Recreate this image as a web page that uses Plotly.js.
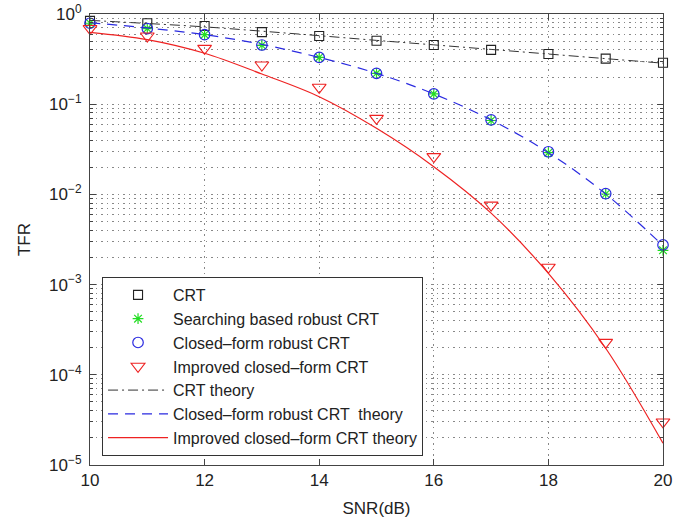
<!DOCTYPE html>
<html>
<head>
<meta charset="utf-8">
<script src="https://cdn.plot.ly/plotly-3.0.1.min.js"></script>
<style>html,body{margin:0;padding:0;background:#fff;}#chart{width:695px;height:524px;}</style>
</head>
<body>
<div id="chart"></div>
<script>
const snr = [10, 11, 12, 13, 14, 15, 16, 17, 18, 19, 20];
const crtSim = [0.84, 0.79, 0.735, 0.63, 0.57, 0.505, 0.453, 0.40, 0.36, 0.32, 0.288];
const searchingSim = [0.79, 0.69, 0.59, 0.45, 0.33, 0.22, 0.13, 0.066, 0.029, 0.0101, 0.0024];
const closedSim = [0.79, 0.69, 0.59, 0.453, 0.33, 0.22, 0.13, 0.067, 0.0297, 0.0102, 0.00275];
const improvedSim = [0.69, 0.57, 0.416, 0.272, 0.154, 0.0697, 0.0262, 0.0076, 0.00156, 0.000229, 0.00003];
const crtTheory = [0.85, 0.785, 0.72, 0.645, 0.575, 0.51, 0.455, 0.405, 0.36, 0.32, 0.285];
const closedTheory = [0.80, 0.70, 0.59, 0.46, 0.33, 0.22, 0.13, 0.067, 0.029, 0.0101, 0.0027];
const improvedTheory = [0.627, 0.52, 0.367, 0.216, 0.121, 0.054, 0.0203, 0.0062, 0.00133, 0.000197, 0.0000174];
const names = ["CRT", "Searching based robust CRT", "Closed\u2013form robust CRT", "Improved closed\u2013form CRT",
  "CRT theory", "Closed\u2013form robust CRT  theory", "Improved closed\u2013form CRT theory"];
const yTickVals = [1, 0.1, 0.01, 0.001, 0.0001, 0.00001];
const yTickText = ["10<sup>0</sup>", "10<sup>\u22121</sup>", "10<sup>\u22122</sup>", "10<sup>\u22123</sup>", "10<sup>\u22124</sup>", "10<sup>\u22125</sup>"];
const xTickVals = [10, 12, 14, 16, 18, 20];

const traces = [
  {x: snr, y: crtSim, name: names[0], mode: 'markers', cliponaxis: false,
   marker: {symbol: 'square-open', size: 9, color: '#222', line: {width: 1.1}}},
  {x: snr, y: searchingSim, name: names[1], mode: 'markers', cliponaxis: false,
   marker: {symbol: 'asterisk-open', size: 9, color: '#22dd22', line: {width: 1.2, color: '#22dd22'}}},
  {x: snr, y: closedSim, name: names[2], mode: 'markers', cliponaxis: false,
   marker: {symbol: 'circle-open', size: 10.5, color: '#2a2ae0', line: {width: 1.2}}},
  {x: snr, y: improvedSim, name: names[3], mode: 'markers', cliponaxis: false,
   marker: {symbol: 'triangle-down-open', size: 12, color: '#ee2222', line: {width: 1.1}}},
  {x: snr, y: crtTheory, name: names[4], mode: 'lines', line: {color: '#333', width: 1, dash: '10px,4px,2px,4px', shape: 'spline'}},
  {x: snr, y: closedTheory, name: names[5], mode: 'lines', line: {color: '#2a2ae0', width: 1.2, dash: '10px,7px', shape: 'spline'}},
  {x: snr, y: improvedTheory, name: names[6], mode: 'lines', line: {color: '#ee2222', width: 1.2, shape: 'spline'}}
];

const gridStyle = {gridcolor: '#888', griddash: '1.5px,4px', gridwidth: 1};
const layout = {
  width: 695, height: 524,
  margin: {l: 90, r: 32, t: 14, b: 59},
  paper_bgcolor: '#fff', plot_bgcolor: '#fff',
  font: {family: 'Liberation Sans, Arial, sans-serif', size: 17, color: '#222'},
  showlegend: true,
  legend: {x: 0.021, y: 0.02, xanchor: 'left', yanchor: 'bottom', bgcolor: '#fff',
    bordercolor: '#333', borderwidth: 1, font: {size: 16, color: '#222'}, itemwidth: 60,
    tracegroupgap: 0},
  xaxis: Object.assign({
    type: 'linear', range: [10, 20], tickvals: xTickVals, ticktext: xTickVals.map(String),
    showline: true, linecolor: '#444', linewidth: 1, mirror: 'ticks',
    ticks: 'inside', ticklen: 6, tickcolor: '#444', showgrid: true, zeroline: false,
    tickfont: {size: 17},
    title: {text: 'SNR(dB)', font: {size: 17}, standoff: 12}, automargin: false
  }, gridStyle),
  yaxis: Object.assign({
    type: 'log', range: [-5, 0], tickvals: yTickVals, ticktext: yTickText,
    showline: true, linecolor: '#444', linewidth: 1, mirror: 'ticks',
    ticks: 'inside', ticklen: 6, tickcolor: '#444', showgrid: true, zeroline: false,
    tickfont: {size: 17}, ticklabelstandoff: 4,
    minor: {dtick: 'D1', ticks: 'inside', ticklen: 3, tickcolor: '#444', showgrid: true,
      gridcolor: '#888', griddash: '1.5px,4px', gridwidth: 1},
    title: {text: 'TFR', font: {size: 17}, standoff: 14}, automargin: false
  }, gridStyle)
};

Plotly.newPlot('chart', traces, layout, {displayModeBar: false, staticPlot: true});
</script>
</body>
</html>
